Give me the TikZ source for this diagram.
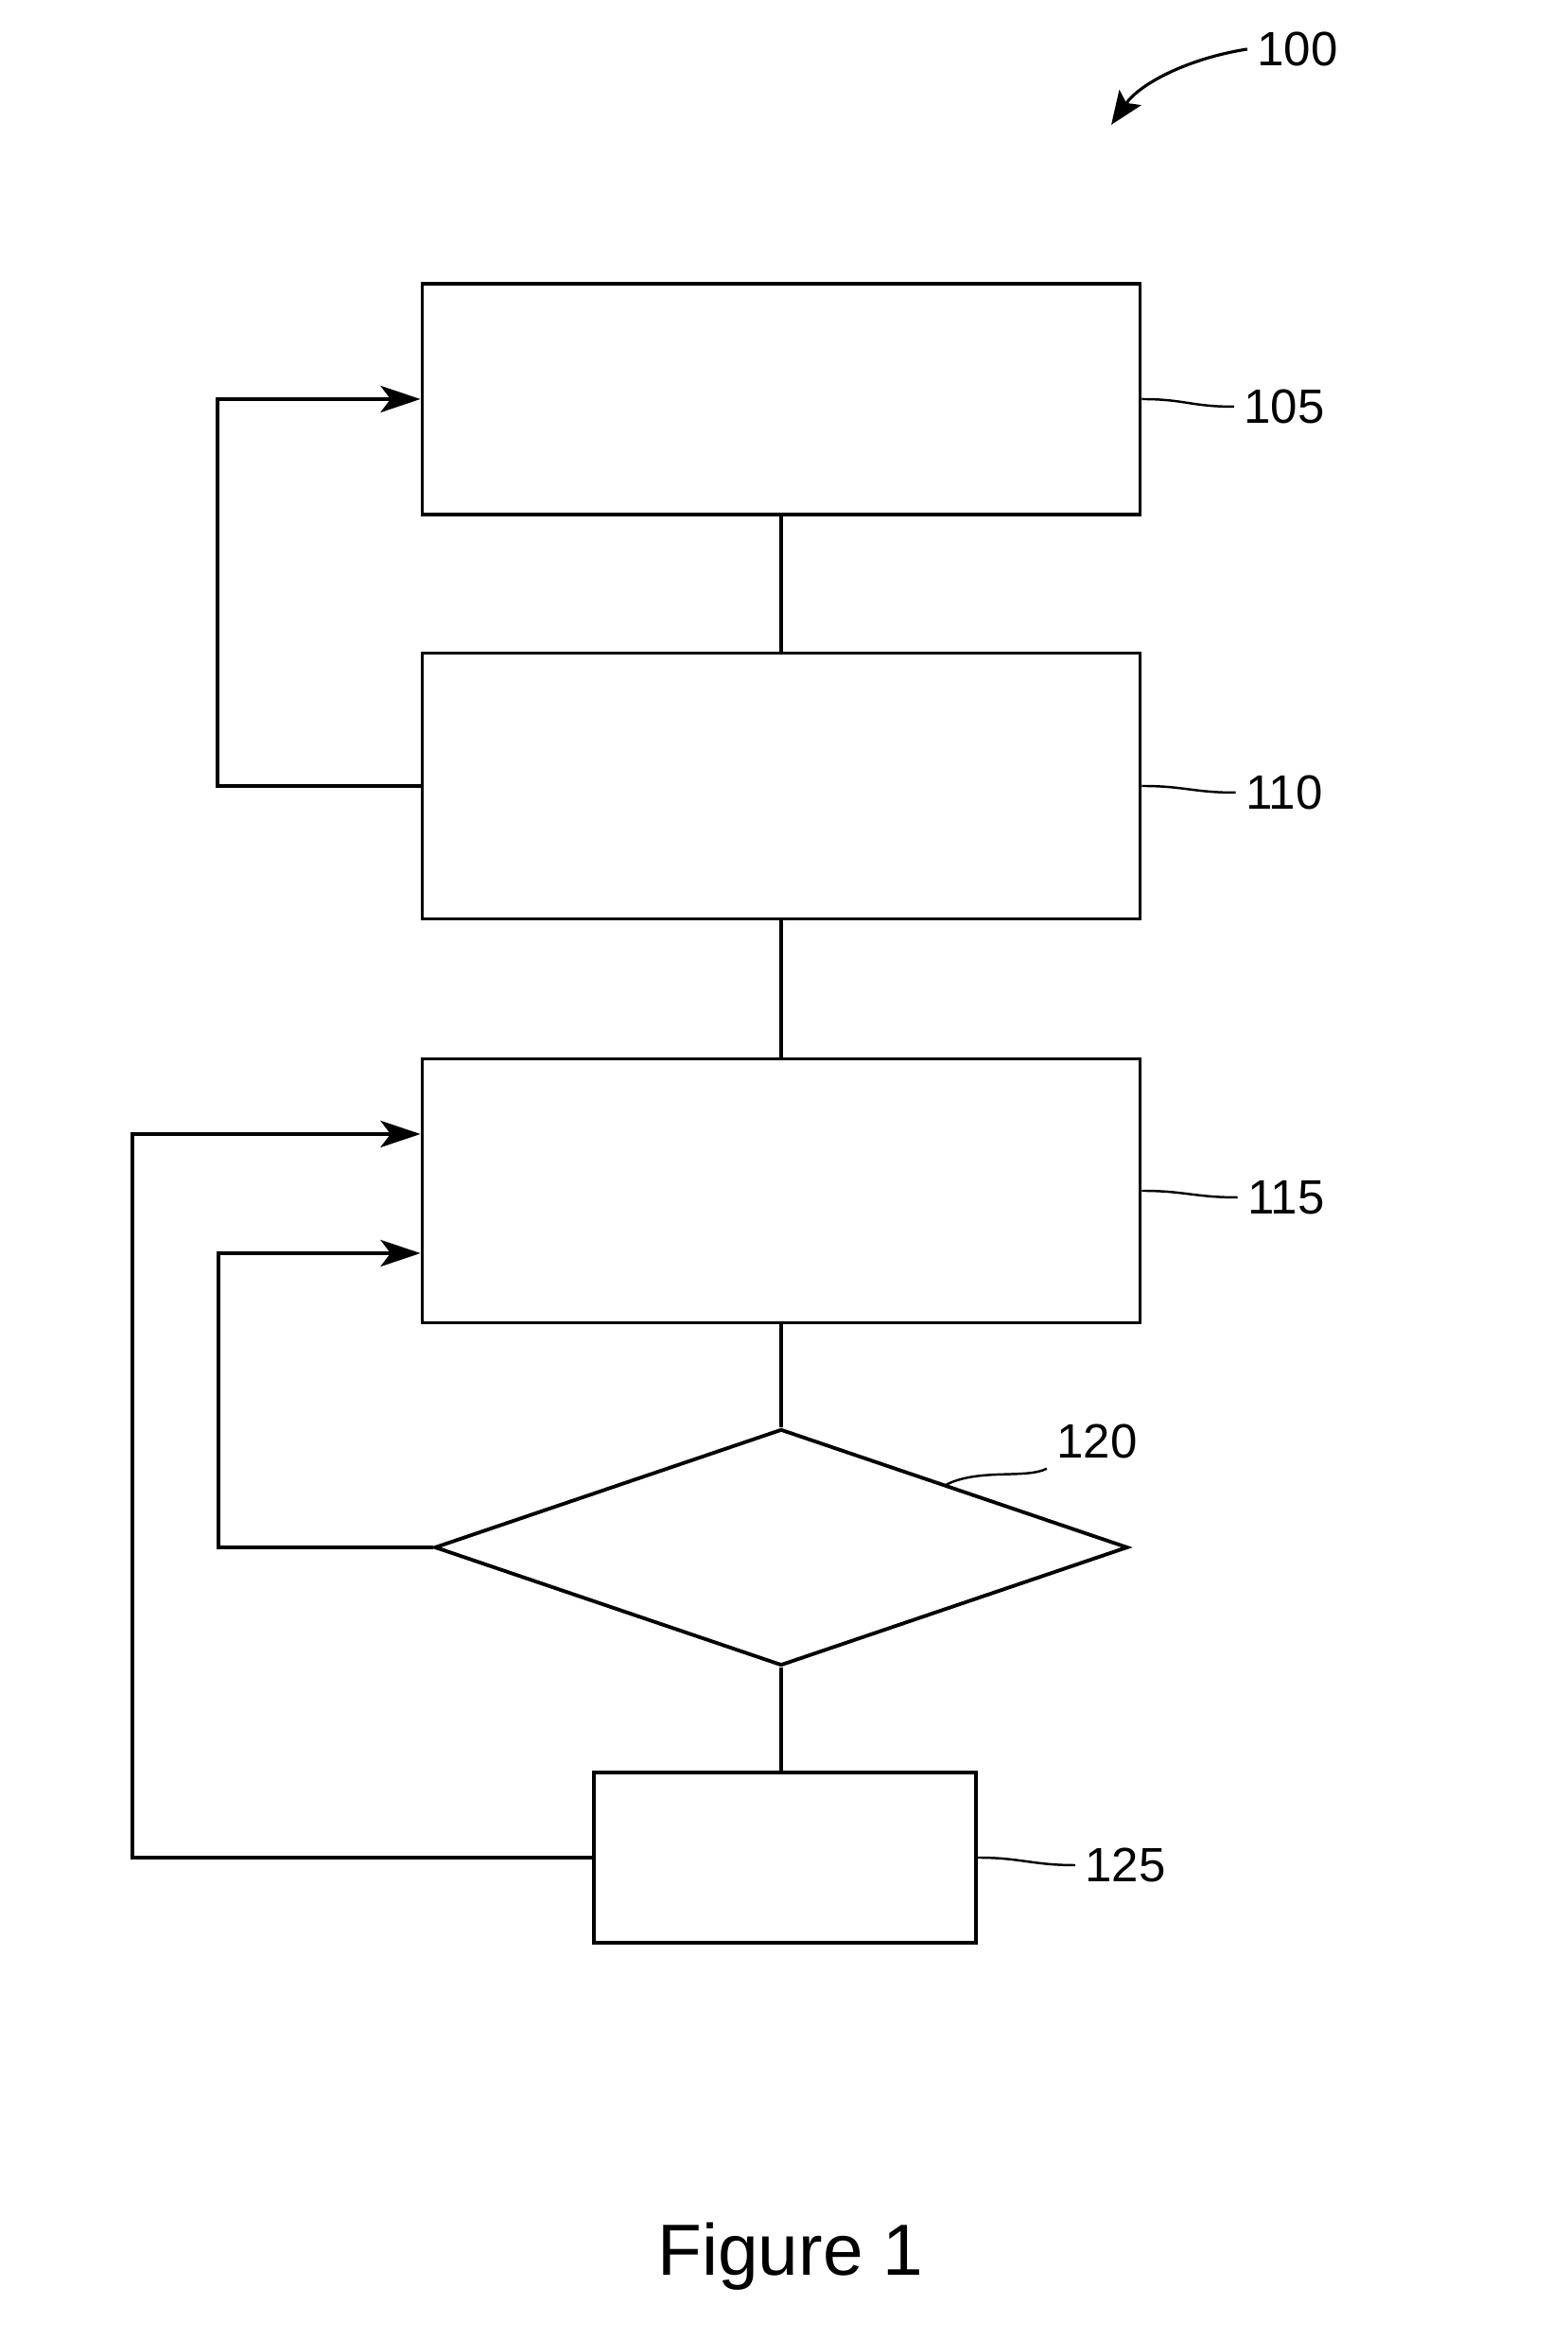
\documentclass[tikz,border=0pt]{standalone}
\usepackage{fontspec}
\setmainfont{Liberation Sans}
\usetikzlibrary{shapes.geometric,arrows.meta}

\begin{document}
\begin{tikzpicture}[
    block/.style={draw,line width=1.1pt,minimum width=7.59cm,inner sep=0pt},
    decision/.style={draw,diamond,line width=1.1pt,minimum width=7.33cm,minimum height=2.5cm,inner sep=0pt},
    link/.style={line width=1.1pt},
    feed/.style={line width=1.1pt,-{Stealth[length=12pt,width=8pt,inset=3pt]}},
    refnum/.style={font=\fontsize{14.5}{16}\selectfont,inner sep=1mm},
    leader/.style={line width=0.7pt}
]
    % Page frame
    \useasboundingbox (0,0) rectangle (16.58,24.74);

    % Overall reference number
    \node[refnum] (l100) at (13.72,24.22) {100};
    \coordinate (c100) at (11.75,23.42);
    \draw[line width=0.9pt,-{Stealth[length=10pt,width=8pt,inset=2pt]}] (l100.west) .. controls (12.55,24.12) and (12.05,23.85) .. (c100);

    % Blocks
    \node[block,minimum height=2.44cm] (b105) at (8.26,20.52) {};
    \node[block,minimum height=2.81cm] (b110) at (8.26,16.43) {};
    \node[block,minimum height=2.79cm] (b115) at (8.26,12.15) {};
    \node[decision] (d120) at (8.26,8.38) {};
    \node[block,minimum width=4.04cm,minimum height=1.80cm] (b125) at (8.30,5.10) {};

    % Straight links
    \draw[link] (b105.south) -- (b110.north);
    \draw[link] (b110.south) -- (b115.north);
    \draw[link] (b115.south) -- (d120.north);
    \draw[link] (d120.south) -- (d120.south |- b125.north);

    % Feedback loops
    \draw[feed] (b110.west) -- ++(-2.15,0) |- (b105.west);
    \draw[feed] (b125.west) -- ++(-4.86,0) |- ([yshift=6mm]b115.west);
    \draw[feed] (d120.west) -- ++(-2.27,0) |- ([yshift=-6.6mm]b115.west);

    % Reference numbers with leaders
    \node[refnum] (l105) at (13.58,20.44) {105};
    \node[refnum] (l110) at (13.58,16.36) {110};
    \node[refnum] (l115) at (13.60,12.08) {115};
    \node[refnum] (l120) at (11.60,9.50) {120};
    \node[refnum] (l125) at (11.90,5.02) {125};
    \draw[leader] (b105.east) .. controls +(0.45,0) and +(-0.45,0) .. (l105.west);
    \draw[leader] (b110.east) .. controls +(0.45,0) and +(-0.45,0) .. (l110.west);
    \draw[leader] (b115.east) .. controls +(0.45,0) and +(-0.45,0) .. (l115.west);
    \draw[leader] (b125.east) .. controls +(0.45,0) and +(-0.45,0) .. (l125.west);
    \coordinate (e120) at (10.00,9.04);
    \draw[leader] (e120) .. controls (10.35,9.22) and (10.85,9.10) .. (l120.south west);

    % Caption
    \node[anchor=base,font=\fontsize{21.8}{24}\selectfont] (cap) at (8.36,0.68) {Figure 1};
\end{tikzpicture}
\end{document}
